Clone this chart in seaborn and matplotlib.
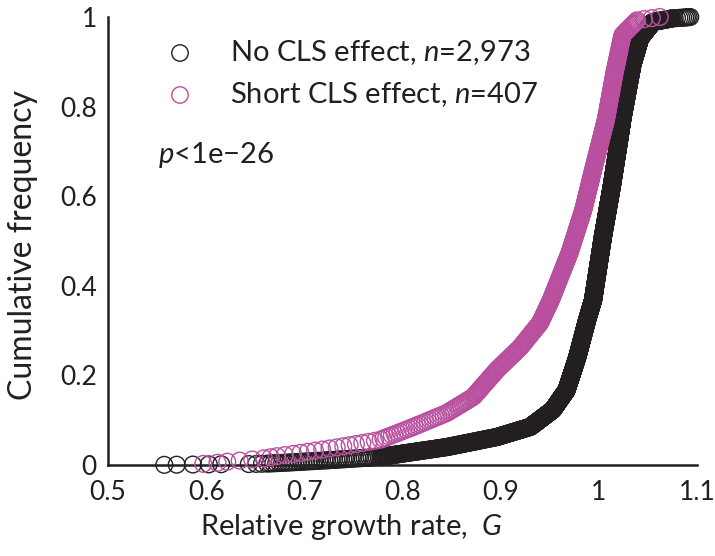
import numpy as np
import pandas as pd
import matplotlib
matplotlib.use('Agg')
import matplotlib.pyplot as plt
import seaborn as sns

# cumulative-frequency anchors (F, G)
no_cls_F = [0.0003, 0.0007, 0.001, 0.0013, 0.0017, 0.002, 0.0024, 0.003, 0.005, 0.01,
            0.018, 0.04, 0.0625, 0.085, 0.123, 0.167, 0.241, 0.324, 0.368, 0.509,
            0.621, 0.732, 0.775, 0.893, 0.953, 0.989, 0.997, 0.998, 0.999, 1.0]
no_cls_G = [0.556, 0.571, 0.586, 0.601, 0.616, 0.643, 0.652, 0.662, 0.68, 0.72,
            0.777, 0.845, 0.896, 0.93, 0.953, 0.967, 0.978, 0.988, 0.994, 1.004,
            1.013, 1.021, 1.024, 1.034, 1.042, 1.055, 1.075, 1.082, 1.088, 1.093]
n_no_cls = 2973

short_F = [0.0025, 0.005, 0.0075, 0.01, 0.0125, 0.015, 0.02, 0.025, 0.03, 0.04,
           0.056, 0.085, 0.116, 0.152, 0.212, 0.263, 0.317, 0.368, 0.473, 0.569,
           0.658, 0.77, 0.877, 0.96, 0.993, 1.0]
short_G = [0.597, 0.612, 0.622, 0.635, 0.648, 0.660, 0.673, 0.690, 0.705, 0.735,
           0.777, 0.811, 0.845, 0.872, 0.896, 0.920, 0.940, 0.951, 0.970, 0.984,
           0.994, 1.007, 1.016, 1.024, 1.039, 1.062]
n_short = 407

x_ticks = [0.5, 0.6, 0.7, 0.8, 0.9, 1.0, 1.1]
y_ticks = [0, 0.2, 0.4, 0.6, 0.8, 1.0]

black = '#231F20'
magenta = '#B9509F'


def ecdf_points(F, G, n):
    rank = np.arange(1, n + 1) / n
    g = np.interp(rank, F, G)
    return pd.DataFrame({'G': g, 'F': rank})


df_no = ecdf_points(no_cls_F, no_cls_G, n_no_cls)
df_short = ecdf_points(short_F, short_G, n_short)

sns.set_style('white')
plt.rcParams['font.family'] = ['Lato', 'DejaVu Sans']
plt.rcParams['mathtext.fontset'] = 'custom'
plt.rcParams['mathtext.it'] = 'Lato:italic'
plt.rcParams['mathtext.rm'] = 'Lato'

fig = plt.figure(figsize=(7.15, 5.56), dpi=100)
ax = fig.add_axes([0.151, 0.1637, 0.824, 0.8057])

sns.scatterplot(data=df_no, x='G', y='F', ax=ax, marker='o', s=145,
                color=black, facecolor='none', edgecolor=black, linewidth=1.0,
                clip_on=False, zorder=3)
sns.scatterplot(data=df_short, x='G', y='F', ax=ax, marker='o', s=145,
                color=magenta, facecolor='none', edgecolor=magenta, linewidth=1.0,
                clip_on=False, zorder=4)

ax.set_xlim(0.5, 1.1)
ax.set_ylim(0, 1)
ax.set_xticks(x_ticks)
ax.set_xticklabels([f'{v:g}' for v in x_ticks])
ax.set_yticks(y_ticks)
ax.set_yticklabels([f'{v:g}' for v in y_ticks])
ax.tick_params(direction='in', length=6, width=1.5, labelsize=19, color=black,
               labelcolor=black)
ax.tick_params(axis='x', pad=11)
ax.tick_params(axis='y', pad=8)
for s in ['top', 'right']:
    ax.spines[s].set_visible(False)
for s in ['left', 'bottom']:
    ax.spines[s].set_linewidth(1.8)
    ax.spines[s].set_color(black)

ax.set_xlabel('Relative growth rate,  $\\it{G}$', fontsize=21, color=black)
ax.set_ylabel('Cumulative frequency', fontsize=23, color=black)
ax.xaxis.set_label_coords(0.414, -0.105)
ax.yaxis.set_label_coords(-0.118, 0.49)

# legend and annotation
ax.scatter([180 / 715], [1 - 53 / 556], transform=fig.transFigure, s=140,
           facecolor='none', edgecolor=black, linewidth=1.0, clip_on=False)
ax.scatter([180 / 715], [1 - 95 / 556], transform=fig.transFigure, s=140,
           facecolor='none', edgecolor=magenta, linewidth=1.0, clip_on=False)
fig.text(230 / 715, 1 - 53 / 556, 'No CLS effect, $\\it{n}$=2,973', fontsize=21,
         color=black, va='center')
fig.text(230 / 715, 1 - 95 / 556, 'Short CLS effect, $\\it{n}$=407', fontsize=21,
         color=black, va='center')
fig.text(158 / 715, 1 - 155 / 556, '$\\it{p}$<1e\u221226', fontsize=21,
         color=black, va='center')

fig.savefig('out.png', dpi=100)
